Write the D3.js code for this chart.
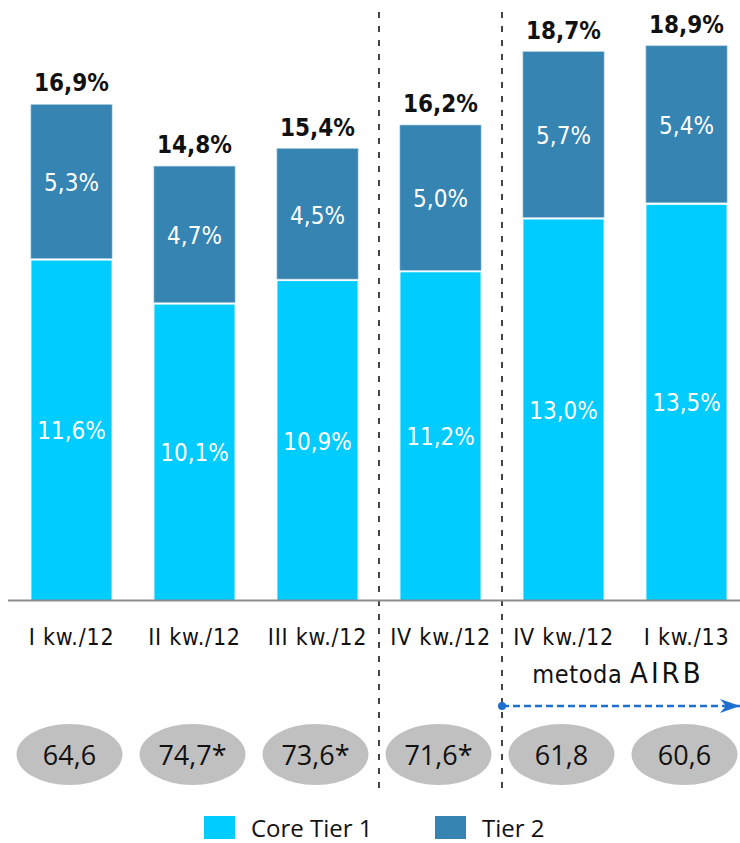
<!DOCTYPE html>
<html>
<head>
<meta charset="utf-8">
<script src="https://cdn.jsdelivr.net/npm/d3@7"></script>
<style>
  body { margin: 0; background: #fff; }
  svg { display: block; }
  .lbl { font-family: 'DejaVu Sans', sans-serif; font-stretch: condensed; }
</style>
</head>
<body>
<div id="chart"></div>
<script>

var categories = ["I kw./12", "II kw./12", "III kw./12", "IV kw./12", "IV kw./12", "I kw./13"];
var coreTier1 = [11.6, 10.1, 10.9, 11.2, 13.0, 13.5];
var tier2 = [5.3, 4.7, 4.5, 5.0, 5.7, 5.4];
var totals = [16.9, 14.8, 15.4, 16.2, 18.7, 18.9];
var ratioLabels = ["64,6", "74,7*", "73,6*", "71,6*", "61,8", "60,6"];
var seriesNames = ["Core Tier 1", "Tier 2"];
var colors = ["#00ccff", "#3584b2"];

var width = 740, height = 843;
var baseY = 600.5;

var fmt = function(v) { return d3.format(".1f")(v).replace(".", ",") + "%"; };

var svg = d3.select("#chart").append("svg")
    .attr("width", width)
    .attr("height", height);

var x = d3.scaleBand()
    .domain(d3.range(categories.length))
    .range([10, 748])
    .paddingInner(0.34)
    .paddingOuter(0.17);

var y = d3.scaleLinear()
    .domain([0, 20.46])
    .range([baseY, 0]);

var rows = categories.map(function(c, i) {
    return {i: i, cat: c, t1: coreTier1[i], t2: tier2[i], total: totals[i], ratio: ratioLabels[i]};
});

// dashed separators
svg.selectAll("line.sep").data([3, 4]).enter()
    .append("line")
    .attr("class", "sep")
    .attr("x1", function(d) { return (x(d - 1) + x.bandwidth() + x(d)) / 2; })
    .attr("x2", function(d) { return (x(d - 1) + x.bandwidth() + x(d)) / 2; })
    .attr("y1", 12)
    .attr("y2", 788)
    .attr("stroke", "#444")
    .attr("stroke-width", 2)
    .attr("stroke-dasharray", "6,8");

// bars
var bar = svg.append("g").selectAll("g").data(rows).enter().append("g");

bar.append("rect")
    .attr("x", function(d) { return x(d.i); })
    .attr("width", x.bandwidth())
    .attr("y", function(d) { return y(d.t1); })
    .attr("height", function(d) { return y(0) - y(d.t1); })
    .attr("fill", colors[0])
    .attr("stroke", "#fff")
    .attr("stroke-width", 1);

bar.append("rect")
    .attr("x", function(d) { return x(d.i); })
    .attr("width", x.bandwidth())
    .attr("y", function(d) { return y(d.t1 + d.t2); })
    .attr("height", function(d) { return y(d.t1) - y(d.t1 + d.t2) - 1.5; })
    .attr("fill", colors[1])
    .attr("stroke", "#a9cbe0")
    .attr("stroke-width", 0.6);

bar.append("text")
    .attr("class", "lbl")
    .attr("x", function(d) { return x(d.i) + x.bandwidth() / 2; })
    .attr("y", function(d) { return (y(0) + y(d.t1)) / 2 + 9; })
    .attr("text-anchor", "middle")
    .attr("fill", "#fff")
    .style("font-size", "24px")
    .text(function(d) { return fmt(d.t1); });

bar.append("text")
    .attr("class", "lbl")
    .attr("x", function(d) { return x(d.i) + x.bandwidth() / 2; })
    .attr("y", function(d) { return (y(d.t1) + y(d.t1 + d.t2)) / 2 + 9; })
    .attr("text-anchor", "middle")
    .attr("fill", "#fff")
    .style("font-size", "24px")
    .text(function(d) { return fmt(d.t2); });

bar.append("text")
    .attr("class", "lbl")
    .attr("x", function(d) { return x(d.i) + x.bandwidth() / 2; })
    .attr("y", function(d) { return y(d.total) - 13; })
    .attr("text-anchor", "middle")
    .attr("fill", "#111")
    .style("font-size", "24px")
    .style("font-weight", "bold")
    .text(function(d) { return fmt(d.total); });

// baseline
svg.append("line")
    .attr("x1", 8).attr("x2", width)
    .attr("y1", baseY).attr("y2", baseY)
    .attr("stroke", "#8c8c8c")
    .attr("stroke-width", 2);

// category labels
svg.selectAll("text.cat").data(rows).enter()
    .append("text")
    .attr("class", "cat lbl")
    .attr("x", function(d) { return x(d.i) + x.bandwidth() / 2; })
    .attr("y", 645)
    .attr("text-anchor", "middle")
    .attr("fill", "#111")
    .style("font-size", "23px")
    .attr("letter-spacing", 0.8)
    .text(function(d) { return d.cat; });

// metoda AIRB
var airb = svg.append("text")
    .attr("class", "lbl")
    .attr("x", 618)
    .attr("y", 683)
    .attr("text-anchor", "middle")
    .attr("fill", "#111")
    .style("font-size", "25px");
airb.append("tspan").attr("letter-spacing", 0.6).text("metoda ");
airb.append("tspan").style("font-size", "29px").attr("letter-spacing", 3).text("AIRB");

// arrow
var arrowX0 = (x(3) + x.bandwidth() + x(4)) / 2;
svg.append("defs").append("marker")
    .attr("id", "head")
    .attr("viewBox", "0 0 20 14")
    .attr("refX", 20).attr("refY", 7)
    .attr("markerWidth", 20).attr("markerHeight", 14)
    .attr("markerUnits", "userSpaceOnUse")
    .attr("orient", "auto")
    .append("path")
    .attr("d", "M0,0 L20,7 L0,14 L6,7 Z")
    .attr("fill", "#1f6fd0");

svg.append("line")
    .attr("x1", arrowX0).attr("x2", 740)
    .attr("y1", 706).attr("y2", 706)
    .attr("stroke", "#1f6fd0")
    .attr("stroke-width", 2.5)
    .attr("stroke-dasharray", "7,4")
    .attr("marker-end", "url(#head)");

svg.append("circle")
    .attr("cx", arrowX0).attr("cy", 706).attr("r", 4)
    .attr("fill", "#1f6fd0");

// ratio ellipses
var ell = svg.append("g").selectAll("g").data(rows).enter().append("g")
    .attr("transform", function(d) { return "translate(" + (x(d.i) + x.bandwidth() / 2 - 2) + ",754.5)"; });

ell.append("ellipse")
    .attr("rx", 53).attr("ry", 30.5)
    .attr("fill", "#c0c0c0");

ell.append("text")
    .attr("y", 10)
    .attr("text-anchor", "middle")
    .attr("fill", "#111")
    .style("font", "27px 'Open Sans', sans-serif")
    .text(function(d) { return d.ratio; });

// legend
var legend = svg.append("g").selectAll("g").data(seriesNames).enter().append("g")
    .attr("transform", function(d, i) { return "translate(" + (204 + i * 231) + ",816)"; });

legend.append("rect")
    .attr("width", 31).attr("height", 23)
    .attr("fill", function(d, i) { return colors[i]; });

legend.append("text")
    .attr("x", 47).attr("y", 21)
    .attr("fill", "#111")
    .style("font", "24px 'Open Sans', sans-serif")
    .text(function(d) { return d; });

</script>
</body>
</html>
